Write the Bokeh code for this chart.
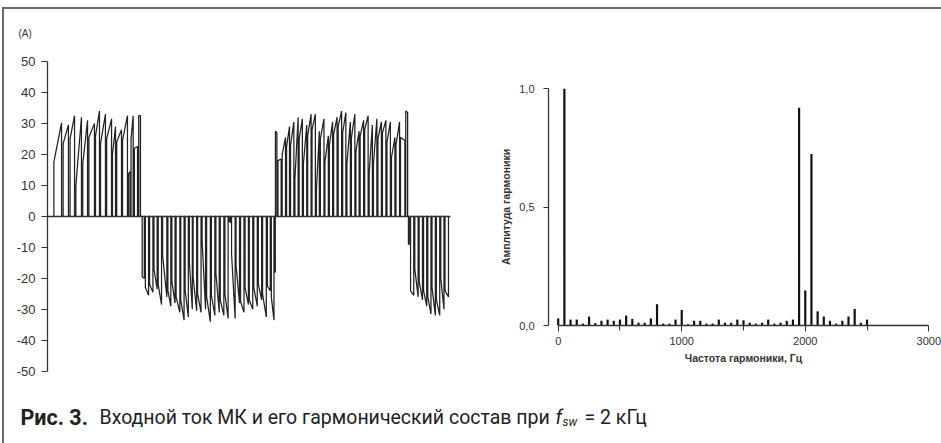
from bokeh.plotting import figure
from bokeh.layouts import column, row
from bokeh.models import Label, FixedTicker, ColumnDataSource
from bokeh.core.properties import value
from bokeh.embed import file_html
from bokeh.resources import INLINE

# ---------------- data: input current pulses (time in ms, current in A) ----------------
t_on = [0.48, 1.18, 1.70, 2.14, 2.66, 3.12, 3.62, 4.00, 4.46, 4.90, 5.22, 5.66, 6.10, 6.30, 6.55, 6.88,
        7.14, 7.38, 7.70, 8.03, 8.35, 8.68, 9.08, 9.38, 9.70, 10.05, 10.38, 10.70, 10.98, 11.32, 11.66, 12.00,
        12.36, 12.70, 13.03, 13.38, 13.70, 13.88, 14.22, 14.56, 14.90, 15.22, 15.56, 15.90, 16.22, 16.58, 16.88, 17.12,
        17.19, 17.38, 17.70, 18.03, 18.33, 18.66, 18.98, 19.30, 19.62, 19.95, 20.28, 20.58, 20.92, 21.26, 21.58, 21.92,
        22.26, 22.58, 22.92, 23.26, 23.58, 23.92, 24.26, 24.58, 24.92, 25.26, 25.60, 25.94, 26.28, 26.62, 27.02,
        27.22, 27.38, 27.70, 28.03, 28.36, 28.68, 29.00, 29.33, 29.66, 29.98]
t_off = [1.06, 1.58, 2.04, 2.56, 3.02, 3.54, 3.92, 4.37, 4.83, 5.13, 5.58, 6.03, 6.22, 6.46, 6.79, 7.01,
         7.30, 7.62, 7.95, 8.27, 8.60, 9.00, 9.30, 9.62, 9.98, 10.30, 10.62, 10.92, 11.25, 11.58, 11.92, 12.28,
         12.62, 12.95, 13.30, 13.62, 13.80, 14.15, 14.48, 14.82, 15.15, 15.48, 15.82, 16.15, 16.50, 16.80, 17.08, 17.18,
         17.30, 17.62, 17.95, 18.25, 18.58, 18.90, 19.22, 19.55, 19.88, 20.20, 20.50, 20.85, 21.18, 21.50, 21.84, 22.18,
         22.50, 22.84, 23.18, 23.50, 23.84, 24.18, 24.50, 24.84, 25.18, 25.52, 25.86, 26.20, 26.55, 26.95, 27.16,
         27.32, 27.62, 27.95, 28.28, 28.60, 28.92, 29.25, 29.58, 29.90, 30.24]
i_on = [17.5, 23.5, 25.0, 10.0, 17.0, 25.5, 26.0, 23.5, 25.0, 20.0, 24.0, 24.5, 13.5, 25.0, 22.0, 32.5,
        -19.5, -23.0, -22.0, -17.0, -22.0, -12.5, -24.0, -21.0, -26.0, -27.0, -24.0, -15.0, -19.5, -25.0, -8.0, -26.0,
        -25.5, -18.5, -27.0, -25.0, -1.5, -12.0, -16.0, -27.5, -23.0, -27.0, -23.0, -22.0, -25.0, -22.5, -26.0, -18.0,
        27.5, 18.0, 20.0, 22.5, 23.0, 12.0, 25.0, 17.0, 26.0, 28.0, 8.5, 25.0, 17.5, 23.0, 26.5, 29.0,
        27.0, 17.0, 25.5, 21.0, 26.0, 28.0, 14.0, 17.0, 25.0, 27.0, 24.0, 19.0, 23.0, 25.5, 34.0,
        -9.0, -24.0, -17.0, -21.0, -24.0, -26.0, -23.0, -27.0, -20.0, -24.0]
i_off = [30.2, 29.5, 32.5, 32.0, 31.0, 30.0, 34.0, 33.0, 31.5, 29.0, 28.0, 32.5, 14.5, 32.5, 22.5, 32.5,
         -20.0, -25.5, -24.5, -23.5, -28.5, -26.0, -29.0, -28.0, -31.0, -33.5, -32.5, -30.0, -30.5, -31.0, -30.0, -34.0,
         -32.0, -31.0, -32.0, -33.0, -2.0, -33.0, -28.0, -31.0, -28.5, -30.0, -29.0, -27.0, -32.5, -24.0, -33.5, -18.0,
         27.0, 18.5, 25.5, 29.0, 30.5, 32.0, 31.5, 29.5, 33.0, 33.0, 27.5, 31.5, 26.0, 30.5, 32.0, 34.0,
         33.5, 30.5, 33.0, 27.5, 31.0, 32.5, 29.5, 31.5, 30.5, 31.0, 30.5, 25.5, 30.5, 24.5, 33.5,
         -9.0, -25.5, -26.0, -27.0, -29.0, -31.5, -32.0, -32.0, -30.0, -26.0]

current_ticks = [-50, -40, -30, -20, -10, 0, 10, 20, 30, 40, 50]
time_span = (0, 30.4)

# ---------------- data: harmonic spectrum ----------------
harm_freq = [0, 50, 100, 150, 200, 250, 300, 350, 400, 450, 500, 550, 600, 650, 700, 750, 800, 850, 900, 950,
             1000, 1050, 1100, 1150, 1200, 1250, 1300, 1350, 1400, 1450, 1500, 1550, 1600, 1650, 1700, 1750,
             1800, 1850, 1900, 1950, 2000, 2050, 2100, 2150, 2200, 2250, 2300, 2350, 2400, 2450, 2500]
harm_amp = [0.03, 1.0, 0.025, 0.025, 0.008, 0.038, 0.01, 0.02, 0.025, 0.02, 0.025, 0.042, 0.028, 0.012, 0.012,
            0.03, 0.09, 0.008, 0.008, 0.025, 0.066, 0.005, 0.02, 0.02, 0.008, 0.008, 0.025, 0.012, 0.012, 0.025,
            0.022, 0.012, 0.008, 0.012, 0.025, 0.008, 0.012, 0.02, 0.025, 0.92, 0.148, 0.725, 0.06, 0.038, 0.02,
            0.008, 0.02, 0.038, 0.07, 0.012, 0.025]
freq_ticks = [0, 1000, 2000, 3000]
freq_minor = [500, 1500, 2500]
amp_ticks = [0, 0.5, 1.0]
amp_labels = ["0,0", "0,5", "1,0"]

INK = "#222222"
AX = "#333333"

# ---------------- left: input current ----------------
xs, ys = [], []
for a, b, c, d in zip(t_on, t_off, i_on, i_off):
    xs += [a, a, b, b]
    ys += [0, c, d, 0]

p1 = figure(width=486, height=374, x_range=(-3.243, 33.409), y_range=(-53.97, 66.79),
            toolbar_location=None, output_backend="svg", min_border=0)
p1.outline_line_color = None
p1.grid.visible = False
p1.line(xs, ys, line_color=INK, line_width=1.25)

xa1 = p1.xaxis[0]
xa1.fixed_location = 0
xa1.bounds = time_span
xa1.ticker = FixedTicker(ticks=[])
xa1.major_tick_out = 0
xa1.minor_tick_out = 0
xa1.major_label_text_font_size = "0px"
xa1.axis_line_color = AX
xa1.axis_line_width = 1.3

ya = p1.yaxis[0]
ya.fixed_location = 0
ya.bounds = (-50, 50)
ya.ticker = FixedTicker(ticks=current_ticks)
ya.major_label_overrides = {t: str(t) for t in current_ticks}
ya.major_tick_out = 6
ya.major_tick_in = 0
ya.minor_tick_out = 0
ya.major_label_standoff = 6
ya.axis_line_color = AX
ya.axis_line_width = 1.3
ya.major_tick_line_color = AX
ya.major_label_text_font = "Liberation Sans"
ya.major_label_text_font_size = "13px"
ya.major_label_text_color = AX
p1.add_layout(Label(x=-2.19, y=59.0, text="(A)", text_font="Liberation Sans",
                    text_font_size="10px", text_color=AX, text_baseline="middle", text_align="left"))

# ---------------- right: harmonic spectrum ----------------
p2 = figure(width=451, height=374, x_range=(-548.0, 3102.8), y_range=(-0.245, 1.335),
            toolbar_location=None, output_backend="svg", min_border=0)
p2.outline_line_color = None
p2.grid.visible = False
p2.segment(x0=harm_freq, y0=[0] * len(harm_freq), x1=harm_freq, y1=harm_amp,
           line_color="#111111", line_width=2.2)
xa = p2.xaxis[0]
xa.fixed_location = 0
xa.ticker = FixedTicker(ticks=freq_ticks, minor_ticks=freq_minor)
xa.bounds = (0, 3000)
xa.major_tick_out = 6
xa.major_tick_in = 0
xa.minor_tick_out = 5
xa.minor_tick_in = 0
xa.major_label_standoff = 5
xa.axis_label = "Частота гармоники, Гц"
xa.axis_label_standoff = 4
ya2 = p2.yaxis[0]
ya2.fixed_location = -78.5
ya2.ticker = FixedTicker(ticks=amp_ticks)
ya2.major_label_overrides = {t: l for t, l in zip(amp_ticks, amp_labels)}
ya2.bounds = (0, 1)
ya2.major_tick_out = 5
ya2.major_tick_in = 0
ya2.minor_tick_out = 0
ya2.major_label_standoff = 9
ya2.axis_label = "Амплитуда гармоники"
ya2.axis_label_standoff = 4
for ax in (xa, ya2):
    ax.axis_line_color = AX
    ax.axis_line_width = 1.3
    ax.major_tick_line_color = AX
    ax.minor_tick_line_color = AX
    ax.major_label_text_font = "Liberation Sans"
    ax.major_label_text_font_size = "11px"
    ax.major_label_text_color = AX
    ax.axis_label_text_font = "Liberation Sans"
    ax.axis_label_text_font_size = "10.5px"
    ax.axis_label_text_font_style = "bold"
    ax.axis_label_text_color = AX

# ---------------- caption ----------------
p3 = figure(width=937, height=60, x_range=(4, 941), y_range=(0, 60),
            x_axis_location=None, y_axis_location=None, toolbar_location=None,
            output_backend="svg", min_border=0)
p3.outline_line_color = None
p3.grid.visible = False
cap = ColumnDataSource(dict(
    x=[20, 99, 555, 562, 584],
    y=[26, 26, 26, 22, 26],
    t=["Рис. 3.", "Входной ток МК и его гармонический состав при", "f", "sw", "= 2 кГц"],
    s=["21.5px", "19.5px", "19.5px", "12px", "19.5px"],
    st=["bold", "normal", "italic", "italic", "normal"],
))
p3.text(x="x", y="y", text="t", source=cap, text_font=value("Roboto"), text_font_size="s",
        text_font_style="st", text_color=INK, text_baseline="alphabetic", text_align="left")

layout = column(row(p1, p2), p3, margin=(7, 0, 0, 2),
                styles={"border-top": "2px solid #6a6a6a", "border-left": "2px solid #6a6a6a"})

open("out.html", "w").write(file_html(layout, INLINE))
